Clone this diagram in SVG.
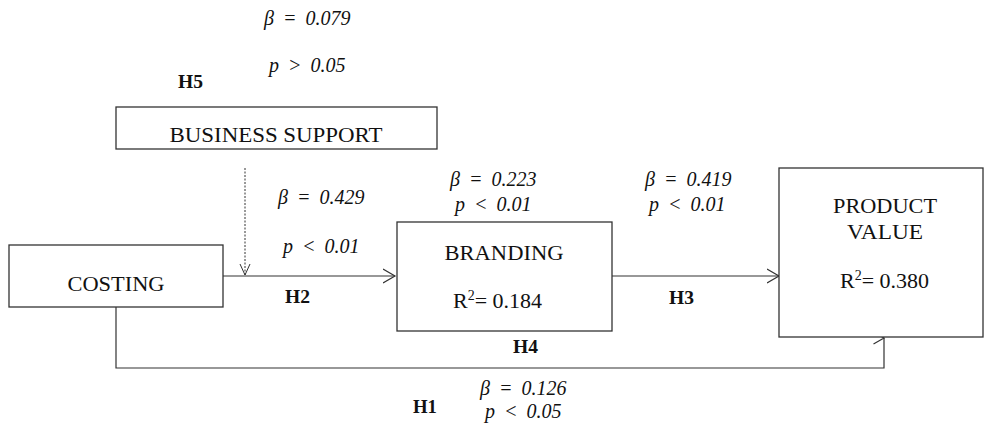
<svg xmlns="http://www.w3.org/2000/svg" width="984" height="425" viewBox="0 0 984 425">
<style>
.box{fill:#fff;stroke:#333;stroke-width:1.3}
.lbl{font-family:"Liberation Serif","Times New Roman",serif;font-size:22px;fill:#111}
.stat{font-family:"Liberation Serif","Times New Roman",serif;font-size:20px;font-style:italic;fill:#111;word-spacing:4px}
.h{font-family:"Liberation Serif","Times New Roman",serif;font-size:18px;font-weight:bold;fill:#111}
.sup{font-size:14px}
.conn{fill:none;stroke:#333;stroke-width:1.2}
.dot{fill:none;stroke:#333;stroke-width:1;stroke-dasharray:2 1.5}
</style>
<defs>
<marker id="chev" markerUnits="userSpaceOnUse" markerWidth="16" markerHeight="18" refX="12.5" refY="8" orient="auto">
<path d="M0.5,1 L12.5,8 L0.5,15" fill="none" stroke="#333" stroke-width="1.2"/>
</marker>
<marker id="chevs" markerUnits="userSpaceOnUse" markerWidth="14" markerHeight="14" refX="11.5" refY="6" orient="auto">
<path d="M0.5,1 L11.5,6 L0.5,11" fill="none" stroke="#333" stroke-width="1"/>
</marker>
<marker id="chevr" markerUnits="userSpaceOnUse" markerWidth="14" markerHeight="16" refX="11" refY="7" orient="0">
<path d="M0.5,1 L11,7 L0.5,13" fill="none" stroke="#333" stroke-width="1.2"/>
</marker>
</defs>

<g id="connectors">
<line class="dot" x1="245" y1="168" x2="245" y2="275" marker-end="url(#chevs)"/>
<line class="conn" x1="223" y1="276" x2="395" y2="276" marker-end="url(#chev)"/>
<line class="conn" x1="612" y1="276" x2="779" y2="276" marker-end="url(#chev)"/>
<path class="conn" d="M116,307 V368 H884 V338" marker-end="url(#chevr)"/>
</g>

<g id="business-support">
<rect class="box" x="116" y="107" width="321" height="42"/>
<text class="lbl" x="276" y="142" text-anchor="middle" textLength="213" lengthAdjust="spacingAndGlyphs">BUSINESS SUPPORT</text>
</g>

<g id="costing">
<rect class="box" x="9" y="245" width="214" height="62"/>
<text class="lbl" x="116" y="291" text-anchor="middle" textLength="97" lengthAdjust="spacingAndGlyphs">COSTING</text>
</g>

<g id="branding">
<rect class="box" x="397" y="222" width="215" height="109"/>
<text class="lbl" x="504" y="260" text-anchor="middle" textLength="119" lengthAdjust="spacingAndGlyphs">BRANDING</text>
<text class="lbl" x="453" y="308">R<tspan class="sup" dy="-8">2</tspan><tspan dy="8">= 0.184</tspan></text>
</g>

<g id="product-value">
<rect class="box" x="779" y="168" width="204" height="169"/>
<text class="lbl" x="885" y="213" text-anchor="middle" textLength="104" lengthAdjust="spacingAndGlyphs">PRODUCT</text>
<text class="lbl" x="885" y="239" text-anchor="middle" textLength="76" lengthAdjust="spacingAndGlyphs">VALUE</text>
<text class="lbl" x="840" y="288">R<tspan class="sup" dy="-8">2</tspan><tspan dy="8">= 0.380</tspan></text>
</g>

<g id="labels">
<text class="stat" x="264" y="25">β = 0.079</text>
<text class="stat" x="269" y="72">p &gt; 0.05</text>
<text class="h" x="178" y="88" textLength="25" lengthAdjust="spacingAndGlyphs">H5</text>
<text class="stat" x="278" y="204">β = 0.429</text>
<text class="stat" x="283" y="253">p &lt; 0.01</text>
<text class="h" x="285" y="303" textLength="25" lengthAdjust="spacingAndGlyphs">H2</text>
<text class="stat" x="450" y="186">β = 0.223</text>
<text class="stat" x="455" y="211">p &lt; 0.01</text>
<text class="stat" x="645" y="186">β = 0.419</text>
<text class="stat" x="649" y="211">p &lt; 0.01</text>
<text class="h" x="669" y="304" textLength="25" lengthAdjust="spacingAndGlyphs">H3</text>
<text class="h" x="513" y="353" textLength="25" lengthAdjust="spacingAndGlyphs">H4</text>
<text class="stat" x="480" y="395">β = 0.126</text>
<text class="h" x="413" y="413" textLength="24" lengthAdjust="spacingAndGlyphs">H1</text>
<text class="stat" x="485" y="418">p &lt; 0.05</text>
</g>
</svg>
